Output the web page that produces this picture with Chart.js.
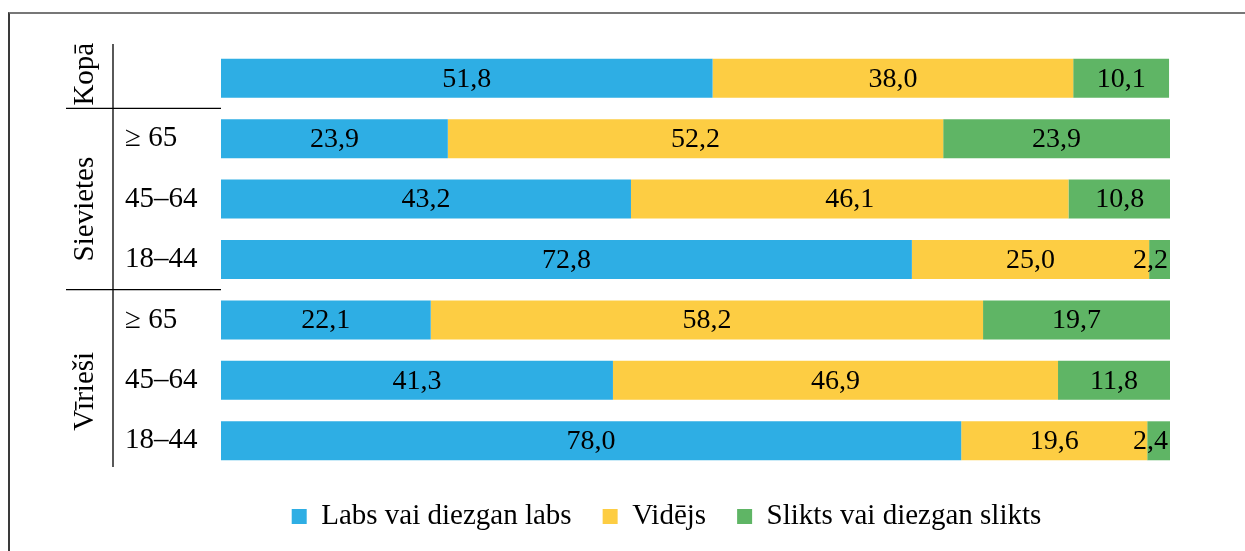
<!DOCTYPE html>
<html>
<head>
<meta charset="utf-8">
<script src="https://cdn.jsdelivr.net/npm/chart.js@4.4.1/dist/chart.umd.min.js"></script>
<style>
    body {
        margin: 0;
        background: #ffffff;
    }

    .frame {
        position: absolute;
        left: 8px;
        top: 12px;
        width: 1245px;
        height: 551px;
        border-top: 2px solid #777777;
        border-left: 2px solid #3a3a3a;
    }

    #chart {
        position: absolute;
        left: 0;
        top: 0;
    }
</style>
</head>
<body>
<div class="frame"></div>
<canvas id="chart" width="1245" height="551"></canvas>
<script>
const ageLabels = ["", "≥ 65", "45–64", "18–44", "≥ 65", "45–64", "18–44"];
const groupLabels = ["Kopā", "Sievietes", "Vīrieši"];
const seriesNames = ["Labs vai diezgan labs", "Vidējs", "Slikts vai diezgan slikts"];

const good = [51.8, 23.9, 43.2, 72.8, 22.1, 41.3, 78.0];
const average = [38.0, 52.2, 46.1, 25.0, 58.2, 46.9, 19.6];
const bad = [10.1, 23.9, 10.8, 2.2, 19.7, 11.8, 2.4];

const colors = ["#2eaee4", "#fdcd43", "#5fb565"];
const serif = "'Liberation Serif', 'Times New Roman', serif";

// bar value labels, centred in each segment, pulled inside the bar end
const valueLabels = {
    id: "valueLabels",
    afterDatasetsDraw(chart) {
        const ctx = chart.ctx;
        ctx.save();
        ctx.font = "28px " + serif;
        ctx.fillStyle = "#000000";
        ctx.textAlign = "center";
        ctx.textBaseline = "middle";
        chart.data.datasets.forEach((ds, di) => {
            const meta = chart.getDatasetMeta(di);
            meta.data.forEach((bar, i) => {
                const text = ds.data[i].toFixed(1).replace(".", ",");
                const w = ctx.measureText(text).width;
                let x = (bar.x + bar.base) / 2;
                if (x + w / 2 > bar.x - 2) {
                    x = bar.x - 2 - w / 2;
                }
                ctx.fillText(text, x, bar.y + 1);
            });
        });
        ctx.restore();
    }
};

// group labels and separator lines on the left
const groups = {
    id: "groups",
    afterLayout(chart) {
        chart.legend.left += 19;
        chart.legend.right += 19;
    },
    afterDraw(chart) {
        const ctx = chart.ctx;
        const y = chart.scales.y;
        const area = chart.chartArea;
        const p = i => y.getPixelForValue(i);
        const lineX = area.left - 108;

        ctx.save();
        ctx.strokeStyle = "#000000";
        ctx.lineWidth = 1.3;
        ctx.beginPath();
        ctx.moveTo(lineX, area.top - 4);
        ctx.lineTo(lineX, area.bottom - 4);
        [(p(0) + p(1)) / 2, (p(3) + p(4)) / 2].forEach(yy => {
            ctx.moveTo(66, yy);
            ctx.lineTo(area.left, yy);
        });
        ctx.stroke();

        ctx.font = "29px " + serif;
        ctx.fillStyle = "#000000";
        ctx.textAlign = "center";
        ctx.textBaseline = "middle";
        const centres = [p(0) - 4, (p(1) + p(3)) / 2 + 10, (p(4) + p(6)) / 2 + 11];
        groupLabels.forEach((label, i) => {
            ctx.save();
            ctx.translate(85, centres[i]);
            ctx.rotate(-Math.PI / 2);
            ctx.fillText(label, 0, 0);
            ctx.restore();
        });
        ctx.restore();
    }
};

new Chart(document.getElementById("chart"), {
    type: "bar",
    data: {
        labels: ageLabels,
        datasets: [
            { label: seriesNames[0], data: good, backgroundColor: colors[0] },
            { label: seriesNames[1], data: average, backgroundColor: colors[1] },
            { label: seriesNames[2], data: bad, backgroundColor: colors[2] }
        ]
    },
    options: {
        indexAxis: "y",
        responsive: false,
        animation: false,
        categoryPercentage: 1,
        barPercentage: 0.645,
        layout: {
            padding: { left: 125, right: 75, top: 48, bottom: 10 }
        },
        scales: {
            x: {
                stacked: true,
                min: 0,
                max: 100,
                display: false
            },
            y: {
                stacked: true,
                grid: { display: false, drawTicks: false },
                border: { display: false },
                ticks: {
                    crossAlign: "far",
                    color: "#000000",
                    font: { family: serif, size: 29 }
                },
                afterFit(scale) {
                    scale.width = 96;
                }
            }
        },
        plugins: {
            tooltip: { enabled: false },
            legend: {
                position: "bottom",
                labels: {
                    boxWidth: 15,
                    boxHeight: 15,
                    padding: 31,
                    color: "#000000",
                    font: { family: serif, size: 29 }
                }
            }
        }
    },
    plugins: [valueLabels, groups]
});
</script>
</body>
</html>
